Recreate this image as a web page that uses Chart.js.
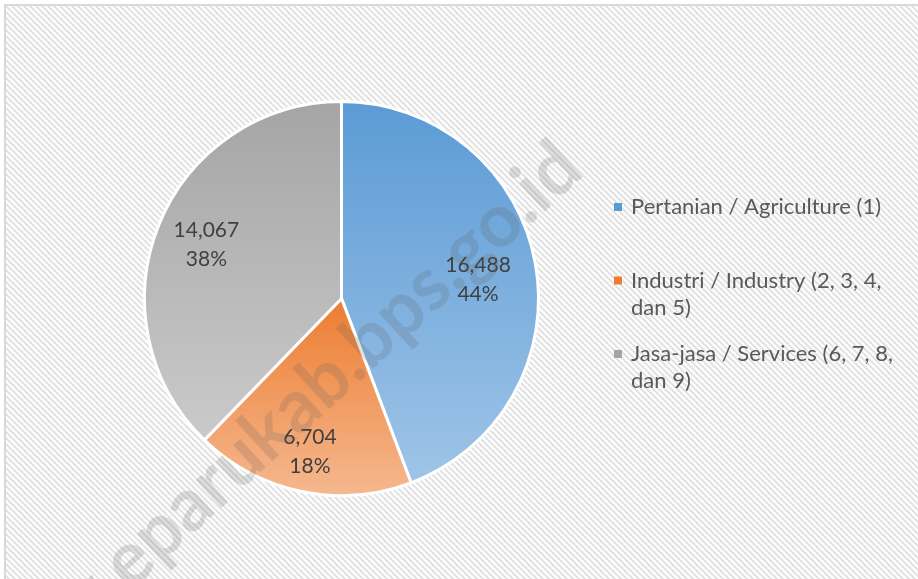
<!DOCTYPE html>
<html>
<head>
<meta charset="utf-8">
<script src="https://cdn.jsdelivr.net/npm/chart.js@4/dist/chart.umd.min.js"></script>
<style>
  html, body { margin: 0; padding: 0; background: #fff; }
  #wrap { width: 918px; height: 579px; }
</style>
</head>
<body>
<div id="wrap"><canvas id="pieChart"></canvas></div>
<script>
//data
const categories = [
    ['Pertanian / Agriculture (1)'],
    ['Industri / Industry (2, 3, 4,', 'dan 5)'],
    ['Jasa-jasa / Services (6, 7, 8,', 'dan 9)'],
];
const workers = [16488, 6704, 14067];

//colors (top of slice -> bottom of slice)
const topColors = ['#5b9bd5', '#ed7d31', '#a5a5a5'];
const bottomColors = ['#9fc4e7', '#f5b88f', '#cacaca'];
const labelRadius = [0.7, 0.79, 0.74];
const labelShift = [0.04, 0, 0];

const total = workers.reduce((a, b) => a + b, 0);
const FONT = 'Lato, "Open Sans", sans-serif';

/*
    Gradient per slice, over the slice's vertical extent
*/
function sliceGradient(context) {
    const chart = context.chart;
    const i = context.dataIndex;
    const area = chart.chartArea;
    if (!area) return topColors[i];
    const cx = (area.left + area.right) / 2;
    const cy = (area.top + area.bottom) / 2;
    const r = (Math.min(area.width, area.height) - 3) / 2;

    let before = 0;
    for (let k = 0; k < i; k++) before += workers[k];
    const a0 = -Math.PI / 2 + before / total * Math.PI * 2;
    const a1 = a0 + workers[i] / total * Math.PI * 2;

    let ys = [cy, cy + r * Math.sin(a0), cy + r * Math.sin(a1)];
    for (let t = -Math.PI / 2; t < Math.PI * 2; t += Math.PI / 2)
        if (t > a0 && t < a1) ys.push(cy + r * Math.sin(t));
    const y0 = Math.min(...ys), y1 = Math.max(...ys);

    const g = chart.ctx.createLinearGradient(0, y0, 0, y1);
    g.addColorStop(0, topColors[i]);
    g.addColorStop(1, bottomColors[i]);
    return g;
}

/*
    Hatched background + frame
*/
const backgroundPlugin = {
    id: 'hatch',
    beforeDraw(chart) {
        const ctx = chart.ctx;
        const tile = document.createElement('canvas');
        tile.width = 6; tile.height = 6;
        const t = tile.getContext('2d');
        t.fillStyle = '#ffffff';
        t.fillRect(0, 0, 6, 6);
        t.strokeStyle = '#e3e3e3';
        t.lineWidth = 2.2;
        for (let k = -1; k <= 1; k++) {
            t.beginPath();
            t.moveTo(k * 6 - 1, -1);
            t.lineTo(k * 6 + 7, 7);
            t.stroke();
        }
        ctx.save();
        ctx.fillStyle = '#ffffff';
        ctx.fillRect(0, 0, chart.width, chart.height);
        ctx.fillStyle = ctx.createPattern(tile, 'repeat');
        ctx.fillRect(6, 6, chart.width, chart.height);
        ctx.strokeStyle = '#d9d9d9';
        ctx.lineWidth = 2;
        ctx.strokeRect(5, 5, chart.width + 20, chart.height + 20);
        ctx.restore();
    }
};

/*
    Value + percent labels inside slices
*/
const sliceLabelPlugin = {
    id: 'sliceLabels',
    afterDatasetsDraw(chart) {
        const ctx = chart.ctx;
        const meta = chart.getDatasetMeta(0);
        ctx.save();
        ctx.font = '21px ' + FONT;
        ctx.fillStyle = '#404040';
        ctx.textAlign = 'center';
        ctx.textBaseline = 'middle';
        meta.data.forEach((arc, i) => {
            const mid = (arc.startAngle + arc.endAngle) / 2 + labelShift[i];
            const rr = arc.outerRadius * labelRadius[i];
            const x = arc.x + Math.cos(mid) * rr;
            const y = arc.y + Math.sin(mid) * rr;
            const pct = Math.round(workers[i] / total * 100) + '%';
            ctx.fillText(workers[i].toLocaleString('en-US'), x, y - 14);
            ctx.fillText(pct, x, y + 15);
        });
        ctx.restore();
    }
};

/*
    Legend on the right, wrapped lines
*/
const legendPlugin = {
    id: 'sideLegend',
    afterDraw(chart) {
        const ctx = chart.ctx;
        ctx.save();
        ctx.font = '22px ' + FONT;
        ctx.textBaseline = 'middle';
        ctx.textAlign = 'left';
        categories.forEach((lines, i) => {
            const y = 207 + i * 73.5;
            ctx.fillStyle = topColors[i];
            ctx.fillRect(614, y - 4, 8, 8);
            ctx.fillStyle = '#595959';
            lines.forEach((line, j) => ctx.fillText(line, 631, y + j * 27));
        });
        ctx.restore();
    }
};

/*
    Site watermark
*/
const watermarkPlugin = {
    id: 'watermark',
    afterDraw(chart) {
        const ctx = chart.ctx;
        ctx.save();
        ctx.translate(570, 156);
        ctx.rotate(-42.5 * Math.PI / 180);
        ctx.font = 'bold 74px ' + FONT;
        ctx.fillStyle = 'rgba(90, 90, 90, 0.19)';
        ctx.textAlign = 'right';
        ctx.textBaseline = 'middle';
        ctx.fillText('www.eparukab.bps.go.id', 0, 0);
        ctx.restore();
    }
};

const ctx_pie = document.getElementById('pieChart').getContext('2d');
const pieChart = new Chart(ctx_pie, {
    type: 'pie',
    data: {
        labels: categories.map(l => l.join(' ')),
        datasets: [{
            data: workers,
            backgroundColor: sliceGradient,
            borderColor: '#ffffff',
            borderWidth: 3,
        }]
    },
    options: {
        responsive: true,
        maintainAspectRatio: false,
        animation: false,
        layout: {
            padding: { top: 100, bottom: 82, left: 143, right: 378 }
        },
        plugins: {
            legend: { display: false },
            tooltip: { enabled: false },
        }
    },
    plugins: [backgroundPlugin, sliceLabelPlugin, legendPlugin, watermarkPlugin],
});
</script>
</body>
</html>
